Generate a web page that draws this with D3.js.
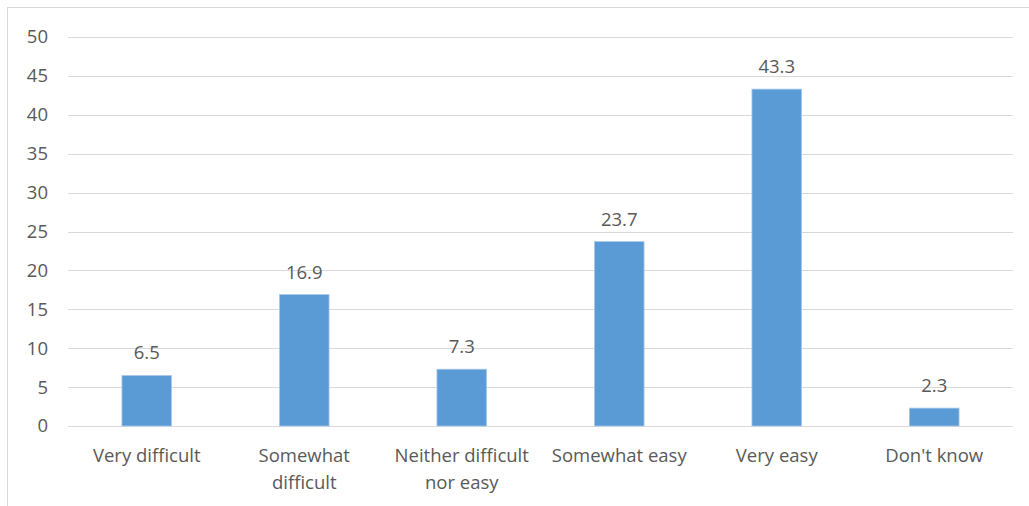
<!DOCTYPE html>
<html>
<head>
<meta charset="utf-8">
<script src="https://cdn.jsdelivr.net/npm/d3@7"></script>
<style>
  html, body { margin: 0; padding: 0; background: #fff; }
  svg { display: block; }
  text { font-family: "Open Sans", "Liberation Sans", sans-serif; fill: #595959; }
</style>
</head>
<body>
<svg id="chart" width="1029" height="506"></svg>
<script>
// Responses to "How easy or difficult ..." (percent)
const categories = [
  ["Very difficult"],
  ["Somewhat", "difficult"],
  ["Neither difficult", "nor easy"],
  ["Somewhat easy"],
  ["Very easy"],
  ["Don't know"]
];
const values = [6.5, 16.9, 7.3, 23.7, 43.3, 2.3];
const yTicks = [0, 5, 10, 15, 20, 25, 30, 35, 40, 45, 50];

const svg = d3.select("#chart");
const plot = { left: 68, right: 1013, top: 37, bottom: 426 };
const FS = 18.5;

// Chart frame
svg.append("rect")
  .attr("x", 7.5).attr("y", 7.5)
  .attr("width", 1040).attr("height", 520)
  .attr("fill", "none").attr("stroke", "#d9d9d9").attr("stroke-width", 1);

const x = d3.scaleBand()
  .domain(d3.range(categories.length))
  .range([plot.left, plot.right])
  .paddingInner(0.685).paddingOuter(0.3425);

const y = d3.scaleLinear().domain([0, 50]).range([plot.bottom, plot.top]);

// Gridlines
svg.append("g").selectAll("line").data(yTicks).join("line")
  .attr("x1", plot.left).attr("x2", plot.right)
  .attr("y1", d => Math.round(y(d)) + 0.5).attr("y2", d => Math.round(y(d)) + 0.5)
  .attr("stroke", "#d9d9d9").attr("stroke-width", 1);

// Y axis labels
const yAxis = d3.axisLeft(y).tickValues(yTicks).tickSize(0).tickPadding(0);
const yg = svg.append("g").attr("transform", `translate(48,0)`).call(yAxis);
yg.select(".domain").remove();
yg.selectAll("text")
  .attr("font-size", FS).attr("fill", "#595959")
  .style("font-family", '"Open Sans", "Liberation Sans", sans-serif');

// Bars
svg.append("g").selectAll("rect").data(values).join("rect")
  .attr("x", (d, i) => x(i))
  .attr("width", x.bandwidth())
  .attr("y", d => y(d))
  .attr("height", d => y(0) - y(d))
  .attr("fill", "#5b9bd5")
  .attr("stroke", "#a9c9ec").attr("stroke-width", 0.8);

// Value labels
svg.append("g").selectAll("text").data(values).join("text")
  .attr("x", (d, i) => x(i) + x.bandwidth() / 2)
  .attr("y", d => y(d) - 16)
  .attr("text-anchor", "middle")
  .attr("font-size", FS)
  .text(d => d.toFixed(1));

// Category labels
const cat = svg.append("g").selectAll("text").data(categories).join("text")
  .attr("x", (d, i) => x(i) + x.bandwidth() / 2)
  .attr("y", 462)
  .attr("text-anchor", "middle")
  .attr("font-size", FS);
cat.selectAll("tspan").data(d => d).join("tspan")
  .attr("x", function () { return this.parentNode.getAttribute("x"); })
  .attr("dy", (d, j) => j === 0 ? 0 : 27)
  .text(d => d);
</script>
</body>
</html>
